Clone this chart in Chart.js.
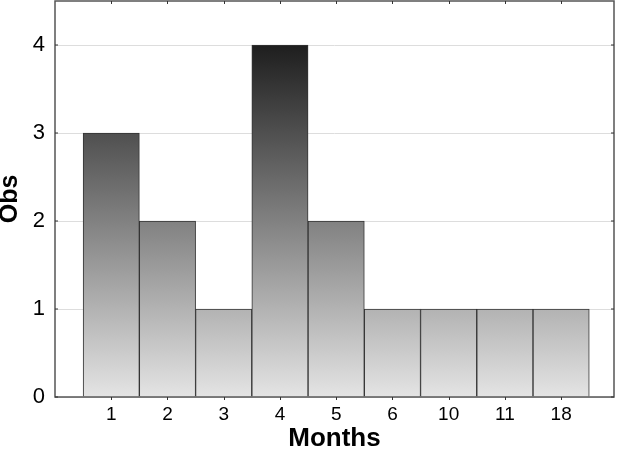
<!DOCTYPE html>
<html>
<head>
<meta charset="utf-8">
<script src="https://cdn.jsdelivr.net/npm/chart.js@4"></script>
<style>
  html, body { margin: 0; padding: 0; background: #fff; }
  #wrap { width: 618px; height: 450px; }
</style>
</head>
<body>
<div id="wrap"><canvas id="chart" width="618" height="450"></canvas></div>
<script>
// --- DATA ---
const months = ['1', '2', '3', '4', '5', '6', '10', '11', '18'];
const obs = [3, 2, 1, 4, 2, 1, 1, 1, 1];
const yTicks = [0, 1, 2, 3, 4];

// --- HELPERS ---
const barGradient = (ctx) => {
    const chart = ctx.chart;
    if (!chart.chartArea) return '#888';
    const y = chart.scales.y;
    const g = chart.ctx.createLinearGradient(0, y.getPixelForValue(4), 0, y.getPixelForValue(0));
    g.addColorStop(0, '#1e1e1e');
    g.addColorStop(1, '#e4e4e4');
    return g;
};

const frame = {
    id: 'frame',
    afterDraw(chart) {
        const { ctx, chartArea: a } = chart;
        ctx.save();
        ctx.strokeStyle = '#555';
        ctx.lineWidth = 1.5;
        ctx.strokeRect(a.left, a.top, a.right - a.left, a.bottom - a.top);
        // small tick marks
        ctx.lineWidth = 1;
        ctx.strokeStyle = '#333';
        months.forEach((m, i) => {
            const x = Math.round(chart.scales.x.getPixelForValue(i + 1)) + 0.5;
            ctx.beginPath(); ctx.moveTo(x, a.bottom); ctx.lineTo(x, a.bottom + 3); ctx.stroke();
            ctx.beginPath(); ctx.moveTo(x, a.top); ctx.lineTo(x, a.top + 3); ctx.stroke();
        });
        yTicks.forEach(v => {
            const y = chart.scales.y.getPixelForValue(v);
            ctx.beginPath(); ctx.moveTo(a.left, y); ctx.lineTo(a.left + 3, y); ctx.stroke();
            ctx.beginPath(); ctx.moveTo(a.right, y); ctx.lineTo(a.right - 3, y); ctx.stroke();
        });
        ctx.restore();
    }
};

new Chart(document.getElementById('chart'), {
    type: 'bar',
    data: {
        datasets: [{
            data: obs.map((v, i) => ({ x: i + 1, y: v })),
            backgroundColor: barGradient,
            borderColor: '#333',
            borderWidth: 1,
            barPercentage: 1,
            categoryPercentage: 1
        }]
    },
    options: {
        responsive: false,
        animation: false,
        layout: { padding: { left: 0, right: 4, top: 1, bottom: 0 } },
        plugins: { legend: { display: false }, tooltip: { enabled: false } },
        scales: {
            x: {
                type: 'linear',
                offset: false,
                min: 0,
                max: 9.94,
                afterBuildTicks: (s) => { s.ticks = months.map((m, i) => ({ value: i + 1 })); },
                afterFit: (s) => { s.height = 53; s.paddingLeft = 0; s.paddingRight = 0; },
                ticks: {
                    autoSkip: false,
                    maxRotation: 0,
                    padding: 6,
                    color: '#000',
                    font: { family: 'Liberation Sans', size: 19 },
                    callback: (v) => months[v - 1] ?? ''
                },
                grid: { display: false, drawTicks: false },
                border: { display: false },
                title: {
                    display: true,
                    text: 'Months',
                    color: '#000',
                    font: { family: 'Liberation Sans', size: 26, weight: 'bold', lineHeight: 1 },
                    padding: { top: 0, bottom: -2 }
                }
            },
            y: {
                min: 0,
                max: 4.5,
                afterBuildTicks: (s) => { s.ticks = yTicks.map(v => ({ value: v })); },
                afterFit: (s) => { s.width = 55; s.paddingTop = 0; s.paddingBottom = 0; },
                ticks: {
                    padding: 10,
                    color: '#000',
                    font: { family: 'Liberation Sans', size: 22 }
                },
                grid: { color: '#dddddd', lineWidth: 1, drawTicks: false },
                border: { display: false },
                title: {
                    display: true,
                    text: 'Obs',
                    color: '#000',
                    font: { family: 'Liberation Sans', size: 25, weight: 'bold', lineHeight: 1 },
                    padding: { top: -2, bottom: 0 }
                }
            }
        }
    },
    plugins: [frame]
});
</script>
</body>
</html>
